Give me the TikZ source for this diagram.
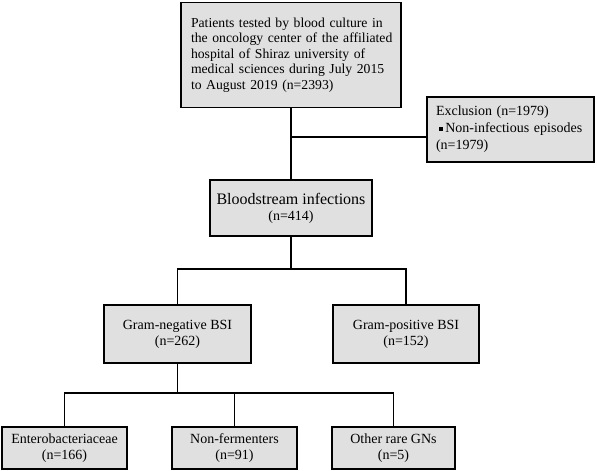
\documentclass[tikz,border=0pt]{standalone}
\usepackage{fontspec}
\setmainfont{Liberation Serif}
\definecolor{boxfill}{RGB}{224,224,224}
\begin{document}
\begin{tikzpicture}[x=1pt,y=-1pt,
  box/.style={draw=black, line width=1.8pt, fill=boxfill, inner sep=0pt, align=center,
    font=\fontsize{14}{16}\selectfont},
  link/.style={line width=1.8pt, line cap=rect}]
\useasboundingbox (0,0) rectangle (597,471);

\node[box, minimum width=220pt, minimum height=105pt, text width=200pt, align=left,
  font=\fontsize{13.7}{15.6}\selectfont] (top) at (291,55)
  {\mbox{Patients tested by blood culture in}\\\mbox{the oncology center of the affiliated}\\\mbox{hospital of Shiraz university of}\\\mbox{medical sciences during July 2015}\\\mbox{to August 2019 (n=2393)}};

\node[box, minimum width=167pt, minimum height=65pt, text width=149pt, align=left,
  font=\fontsize{14}{17}\selectfont] (excl) at (510.5,129.5)
  {\mbox{Exclusion (n=1979)}\\\mbox{\hspace*{3pt}\raisebox{2pt}{\rule{4pt}{4pt}}\,Non-infectious episodes}\\\mbox{(n=1979)}};

\node[box, minimum width=162pt, minimum height=56pt] (blood) at (291,208)
  {{\fontsize{16}{20}\selectfont Bloodstream infections}\\(n=414)};

\node[box, minimum width=147pt, minimum height=58pt] (gneg) at (177.5,334)
  {Gram-negative BSI\\(n=262)};
\node[box, minimum width=146pt, minimum height=58pt] (gpos) at (406,334)
  {Gram-positive BSI\\(n=152)};

\node[box, minimum width=125pt, minimum height=42pt] (ent) at (64.5,448)
  {Enterobacteriaceae\\(n=166)};
\node[box, minimum width=125pt, minimum height=42pt] (nf) at (234.5,448)
  {Non-fermenters\\(n=91)};
\node[box, minimum width=123pt, minimum height=42pt] (oth) at (393.5,448)
  {Other rare GNs\\(n=5)};

\coordinate (j1) at (291,137);
\coordinate (h1) at (0,269);
\coordinate (h2) at (0,393);

\draw[link] (top.south) -- (blood.north);
\draw[link] (j1) -- (j1 -| excl.west);
\draw[link] (blood.south) -- (blood.south |- h1);
\draw[link] (gneg.north) |- (gpos.north |- h1) -- (gpos.north);
\draw[link] (gneg.south) -- (gneg.south |- h2);
\draw[link] (ent.north) |- (oth.north |- h2) -- (oth.north);
\draw[link] (nf.north) -- (nf.north |- h2);
\end{tikzpicture}
\end{document}
